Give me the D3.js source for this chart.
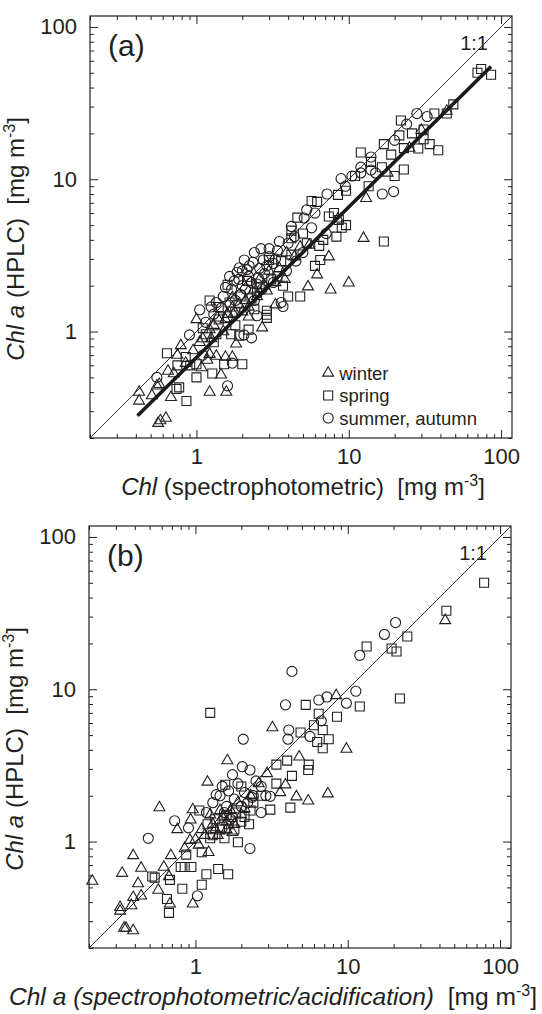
<!DOCTYPE html>
<html>
<head>
<meta charset="utf-8">
<script src="https://cdn.jsdelivr.net/npm/d3@7"></script>
<style>
  body { margin: 0; background: #fff; }
  svg text { font-family: Arial, "Liberation Sans", sans-serif; fill: #231f20; white-space: pre; }
</style>
</head>
<body>
<div id="chart"></div>
<script>
/* global d3 */

const w = 542
const h = 1014

// data ([x, y] in mg m-3)
const domain = [0.2, 118]
const majorTicks = [1, 10, 100]
const seasons = ['winter', 'spring', 'summer, autumn']

const winterA = [[0.42, 0.40], [0.42, 0.35], [0.51, 0.38], [0.55, 0.44], [0.57, 0.45], [0.58, 0.26], [0.63, 0.27], [0.56, 0.25],
  [0.68, 0.37], [0.79, 0.81], [0.71, 0.53], [1.22, 0.40], [1.57, 0.40], [1.55, 0.68], [1.72, 0.68], [1.35, 0.69], [1.18, 0.65],
  [1.22, 0.71], [1.08, 0.58], [1.82, 0.83], [2.7, 1.06], [1.22, 1.03], [1.37, 1.23], [1.72, 1.43], [1.0, 1.2], [1.72, 1.67],
  [3.3, 1.5], [5.4, 1.97], [6.2, 2.36], [7.6, 1.88], [10, 2.09], [7.4, 3.1], [3.9, 3.3], [44, 28], [12.5, 4.1], [0.85, 0.62],
  [0.95, 0.75], [1.1, 0.9], [1.3, 1.1], [1.5, 1.0], [1.6, 1.3], [1.9, 1.5], [2.1, 1.6], [2.4, 1.9], [2.6, 2.2], [3.0, 2.5],
  [3.5, 2.6], [4.4, 3.1], [4.8, 3.6], [5.5, 3.7], [8.5, 5.5], [13, 7.5], [18, 11], [25, 16], [30, 21], [1.45, 0.52],
  [0.75, 0.7], [0.65, 0.55], [2.2, 1.25], [2.9, 1.85], [1.55, 1.2], [1.75, 1.3], [2.0, 1.35], [2.5, 1.7], [2.8, 2.0],
  [3.3, 2.1], [1.25, 0.9], [1.05, 0.85], [3.8, 2.2], [2.2, 1.45]]

const springA = [[70, 50], [86, 48.5], [74, 53], [48.6, 31], [36.5, 27], [44, 27], [22, 24.3], [21.5, 19.4], [31, 21.2], [31, 18.3],
  [34, 17], [28.6, 15.9], [38.7, 15.5], [9.6, 8.4], [8.5, 7.9], [5.7, 7.2], [6.2, 7.1], [4.6, 5.6], [4.2, 4.6], [4.2, 4.1],
  [4.2, 3.2], [3.0, 2.95], [7.4, 5.7], [8.0, 6.0], [8.6, 5.4], [9.0, 4.8], [8.3, 4.2], [9.6, 5.0], [6.4, 3.65], [5.3, 3.8],
  [6.5, 2.95], [6.0, 2.7], [4.8, 1.7], [4.0, 1.7], [2.9, 1.29], [1.22, 1.6], [1.6, 2.03], [2.0, 0.61], [1.52, 0.61], [1.27, 0.53],
  [1.0, 0.5], [0.86, 0.35], [0.77, 0.43], [0.74, 0.42], [0.64, 0.72], [0.75, 0.6], [0.85, 0.68], [0.91, 0.6], [1.0, 0.61],
  [1.15, 0.96], [1.35, 0.96], [1.69, 0.96], [1.91, 0.94], [2.2, 1.03], [2.9, 1.23], [2.9, 1.37], [23, 11.6], [17, 3.9],
  [12, 15], [14, 13], [16.5, 12], [19, 14.5], [23, 16], [11, 10.5], [13.5, 9], [20, 10.5], [26, 20], [17, 17], [3.4, 2.3],
  [2.5, 1.8], [1.8, 1.35], [1.4, 1.2], [5.0, 4.4], [6.8, 4.0], [3.7, 2.0], [1.4, 1.45], [1.65, 1.55], [1.95, 1.7], [2.3, 1.65],
  [2.6, 1.95], [3.1, 2.2], [3.6, 2.9], [2.15, 2.15], [1.3, 0.85], [1.8, 1.1], [2.4, 1.4], [1.1, 1.05]]

const summerA = [[8.9, 10.1], [7.2, 8.0], [5.3, 6.3], [5.1, 5.56], [5.7, 4.8], [3.5, 3.9], [3.0, 3.1], [7.1, 4.4], [3.6, 1.55],
  [3.7, 1.46], [2.3, 0.91], [2.5, 1.27], [1.72, 0.62], [1.6, 0.44], [1.05, 1.39], [1.77, 2.15], [1.46, 1.43], [32.7, 25.8],
  [16.6, 8.0], [19.7, 8.3], [1.91, 2.62], [2.06, 2.95], [2.22, 2.7], [2.4, 3.3], [2.6, 2.6], [1.9, 2.2], [2.0, 2.5], [1.7, 1.9],
  [2.3, 2.1], [2.8, 2.4], [3.2, 2.8], [3.4, 3.4], [4.0, 3.8], [4.4, 4.2], [6.0, 6.0], [9.5, 9.0], [10.5, 10.5], [12, 11],
  [14, 14], [20, 18], [24, 23], [28, 27], [2.4, 1.6], [2.7, 1.9], [3.2, 2.1], [1.3, 1.3], [1.15, 1.15], [0.9, 0.95], [1.5, 1.7],
  [2.1, 1.9], [3.9, 2.5], [4.5, 2.9], [5.0, 3.3], [1.8, 1.6], [2.2, 2.3], [2.55, 2.25], [3.0, 3.5], [4.2, 4.9], [0.55, 0.5],
  [15, 11], [2.05, 0.95], [12, 12], [14, 11.5], [1.55, 1.95], [1.65, 2.3], [1.85, 2.45], [2.15, 2.55], [2.35, 2.85],
  [2.75, 2.95], [1.95, 1.75], [2.5, 2.05], [2.9, 2.7], [1.35, 1.55], [1.25, 1.45], [2.0, 2.0], [3.3, 3.0], [2.65, 3.5],
  [1.6, 1.25], [1.1, 0.7]]

const winterB = [[43.6, 28.3], [8.4, 9.1], [3.2, 5.6], [9.8, 4.05], [1.62, 3.4], [4.8, 3.6], [2.95, 2.8], [3.9, 2.36], [3.6, 2.1],
  [1.2, 2.46], [4.6, 1.97], [5.5, 1.85], [7.4, 2.06], [0.58, 1.67], [0.96, 1.62], [0.76, 1.2], [0.93, 1.39], [0.92, 1.02],
  [1.0, 1.03], [1.22, 0.85], [0.39, 0.81], [0.69, 0.81], [0.62, 0.68], [0.44, 0.67], [0.33, 0.62], [0.42, 0.53], [0.67, 0.59],
  [0.96, 0.39], [0.68, 0.39], [0.57, 0.48], [0.39, 0.43], [0.44, 0.44], [0.38, 0.38], [0.32, 0.37], [0.32, 0.35], [0.34, 0.27],
  [0.35, 0.27], [0.39, 0.26], [0.21, 0.55], [1.3, 1.3], [1.5, 1.45], [1.7, 1.6], [1.4, 1.1], [1.9, 1.8], [2.3, 2.0], [2.6, 2.4],
  [1.1, 1.2], [0.85, 0.9], [1.6, 1.2], [1.25, 1.5], [2.0, 1.5], [1.8, 1.3], [1.15, 1.1], [1.35, 1.2], [1.6, 1.35],
  [1.75, 1.15], [2.1, 1.65], [1.05, 0.95], [1.45, 1.6]]

const springB = [[78.6, 50], [44.4, 32.8], [24.6, 22.2], [13.3, 19.1], [19.4, 18.5], [20.9, 17.7], [22, 8.7], [12, 7.7], [5.3, 7.9],
  [1.25, 7.0], [8.5, 6.6], [6.45, 6.9], [6.0, 5.8], [6.85, 5.4], [7.5, 4.7], [6.85, 4.1], [6.3, 4.5], [4.9, 5.2], [3.4, 3.2],
  [4.0, 3.4], [5.55, 3.2], [5.5, 2.95], [4.3, 2.7], [3.4, 2.4], [1.57, 2.36], [2.0, 2.3], [4.2, 1.67], [3.1, 1.62], [1.06, 1.6],
  [1.6, 1.5], [1.75, 1.45], [2.0, 1.35], [2.25, 1.3], [1.9, 0.99], [1.8, 1.2], [0.87, 0.82], [1.1, 0.85], [0.52, 0.59],
  [0.54, 0.58], [0.8, 0.68], [0.85, 0.68], [0.94, 0.68], [0.68, 0.56], [0.82, 0.49], [1.1, 0.52], [1.18, 0.61], [1.41, 0.66],
  [1.64, 0.61], [0.65, 0.42], [0.67, 0.34], [1.3, 1.1], [1.5, 1.25], [2.4, 1.8], [2.7, 2.0], [1.2, 1.3], [1.35, 1.4],
  [1.45, 1.2], [1.65, 1.3], [1.85, 1.55], [2.1, 1.45], [1.25, 1.05], [1.55, 1.05], [2.3, 1.6]]

const summerB = [[20.6, 27.4], [17.4, 22.9], [12, 16.7], [4.3, 13.1], [11.3, 9.7], [6.45, 8.5], [7.3, 8.9], [9.8, 8.1], [3.9, 7.9],
  [6.7, 6.2], [5.65, 4.9], [4.1, 5.4], [4.05, 4.7], [2.06, 4.7], [2.03, 3.1], [2.28, 2.95], [1.75, 2.75], [2.7, 2.3], [1.37, 2.03],
  [1.45, 2.0], [2.1, 2.1], [2.4, 2.0], [2.2, 1.8], [2.9, 2.0], [3.1, 1.98], [2.7, 1.55], [0.73, 1.37], [0.9, 1.23], [1.18, 1.55],
  [2.28, 0.9], [0.49, 1.05], [1.03, 0.44], [1.6, 1.7], [1.9, 2.4], [2.5, 2.5], [1.3, 1.8], [1.7, 1.4], [1.5, 2.3], [1.55, 1.55],
  [1.8, 1.9], [2.0, 1.7], [1.65, 2.15], [2.35, 1.95]]

// fitted line in (a)
const fitX = [0.41, 86]
const fitY = [0.28, 55]

const symbols = [d3.symbolTriangle, d3.symbolSquare, d3.symbolCircle]
const symSize = [52, 81, 80]
const ink = '#231f20'

const svg = d3.select('#chart').append('svg')
  .attr('width', w)
  .attr('height', h)

function drawPanel (p) {
  const g = svg.append('g')
  const x = d3.scaleLog().domain(domain).range([p.left, p.right])
  const y = d3.scaleLog().domain(domain).range([p.bottom, p.top])

  const allTicks = x.ticks().filter(d => d >= domain[0] && d <= domain[1])
  const minor = allTicks.filter(d => !majorTicks.includes(d))

  const sides = [
    [d3.axisBottom, x, `translate(0,${p.bottom})`, true],
    [d3.axisTop, x, `translate(0,${p.top})`, false],
    [d3.axisLeft, y, `translate(${p.left},0)`, true],
    [d3.axisRight, y, `translate(${p.right},0)`, false]
  ]
  sides.forEach(([axis, scale, tr, labels]) => {
    g.append('g')
      .attr('transform', tr)
      .call(axis(scale).tickValues(minor).tickSize(-4).tickFormat(''))
      .call(s => s.select('.domain').remove())
    const major = g.append('g')
      .attr('transform', tr)
      .call(axis(scale).tickValues(majorTicks).tickSize(-8)
        .tickPadding(axis === d3.axisLeft ? 13 : 10)
        .tickFormat(labels ? d3.format('d') : ''))
      .call(s => s.select('.domain').remove())
    major.selectAll('text')
      .style('font-size', '22px')
      .attr('fill', ink)
  })
  g.selectAll('.tick line').attr('stroke', ink).attr('stroke-width', 1)

  g.append('rect')
    .attr('x', p.left)
    .attr('y', p.top)
    .attr('width', p.right - p.left)
    .attr('height', p.bottom - p.top)
    .attr('fill', 'none')
    .attr('stroke', ink)
    .attr('stroke-width', 1.2)

  const line = d3.line().x(d => x(d[0])).y(d => y(d[1]))

  // 1:1 line
  g.append('path')
    .datum([[domain[0], domain[0]], [domain[1], domain[1]]])
    .attr('d', line)
    .attr('stroke', ink)
    .attr('stroke-width', 0.9)
    .attr('fill', 'none')

  p.series.forEach((pts, i) => {
    g.append('g').selectAll('path')
      .data(pts)
      .join('path')
      .attr('transform', d => `translate(${x(d[0])},${y(d[1])})`)
      .attr('d', d3.symbol().type(symbols[i]).size(symSize[i]))
      .attr('fill', 'none')
      .attr('stroke', ink)
      .attr('stroke-width', 1.1)
  })

  if (p.fit) {
    g.append('path')
      .datum(d3.zip(fitX, fitY))
      .attr('d', line)
      .attr('stroke', '#1a1a1a')
      .attr('stroke-width', 3.6)
      .attr('fill', 'none')
  }

  g.append('text')
    .attr('x', p.left + 18)
    .attr('y', p.top + 40)
    .style('font-size', '30px')
    .text(`(${p.id})`)

  g.append('text')
    .attr('x', p.right - 24)
    .attr('y', p.top + 34)
    .attr('text-anchor', 'end')
    .style('font-size', '20px')
    .text('1:1')

  // axis titles
  const xt = g.append('text')
    .attr('x', (p.left + p.right) / 2 + p.xTitleShift)
    .attr('y', p.bottom + 57)
    .attr('text-anchor', 'middle')
    .style('font-size', p.xTitleSize)
  p.xTitle(xt)

  const yt = g.append('text')
    .attr('transform', `translate(${p.left - 66},${(p.top + p.bottom) / 2 + 12}) rotate(-90)`)
    .attr('text-anchor', 'middle')
    .style('font-size', '24px')
  yt.append('tspan').style('font-style', 'italic').text('Chl a')
  yt.append('tspan').text(' (HPLC)  [mg m')
  yt.append('tspan').attr('dy', -9).style('font-size', '16px').text('-3')
  yt.append('tspan').attr('dy', 9).text(']')

  if (p.legend) {
    const lg = g.append('g')
    const lx = x(7) + 3
    seasons.forEach((s, i) => {
      const ly = p.bottom - 65 + i * 22.5
      lg.append('path')
        .attr('transform', `translate(${lx},${ly})`)
        .attr('d', d3.symbol().type(symbols[i]).size(symSize[i]))
        .attr('fill', 'none')
        .attr('stroke', ink)
        .attr('stroke-width', 1.1)
      lg.append('text')
        .attr('x', lx + 11)
        .attr('y', ly + 6.5)
        .style('font-size', '18.5px')
        .text(s)
    })
  }
}

drawPanel({
  id: 'a', left: 90, right: 512, top: 16, bottom: 438,
  series: [winterA, springA, summerA],
  fit: true,
  legend: true,
  xTitleShift: 2,
  xTitleSize: '24px',
  xTitle: t => {
    t.append('tspan').style('font-style', 'italic').text('Chl')
    t.append('tspan').text(' (spectrophotometric)  [mg m')
    t.append('tspan').attr('dy', -9).style('font-size', '16px').text('-3')
    t.append('tspan').attr('dy', 9).text(']')
  }
})

drawPanel({
  id: 'b', left: 89, right: 511, top: 526, bottom: 948,
  series: [winterB, springB, summerB],
  fit: false,
  legend: false,
  xTitleShift: -27,
  xTitleSize: '24.6px',
  xTitle: t => {
    t.append('tspan').style('font-style', 'italic').text('Chl a (spectrophotometric/acidification)')
    t.append('tspan').text('  [mg m')
    t.append('tspan').attr('dy', -9).style('font-size', '16px').text('-3')
    t.append('tspan').attr('dy', 9).text(']')
  }
})
</script>
</body>
</html>
